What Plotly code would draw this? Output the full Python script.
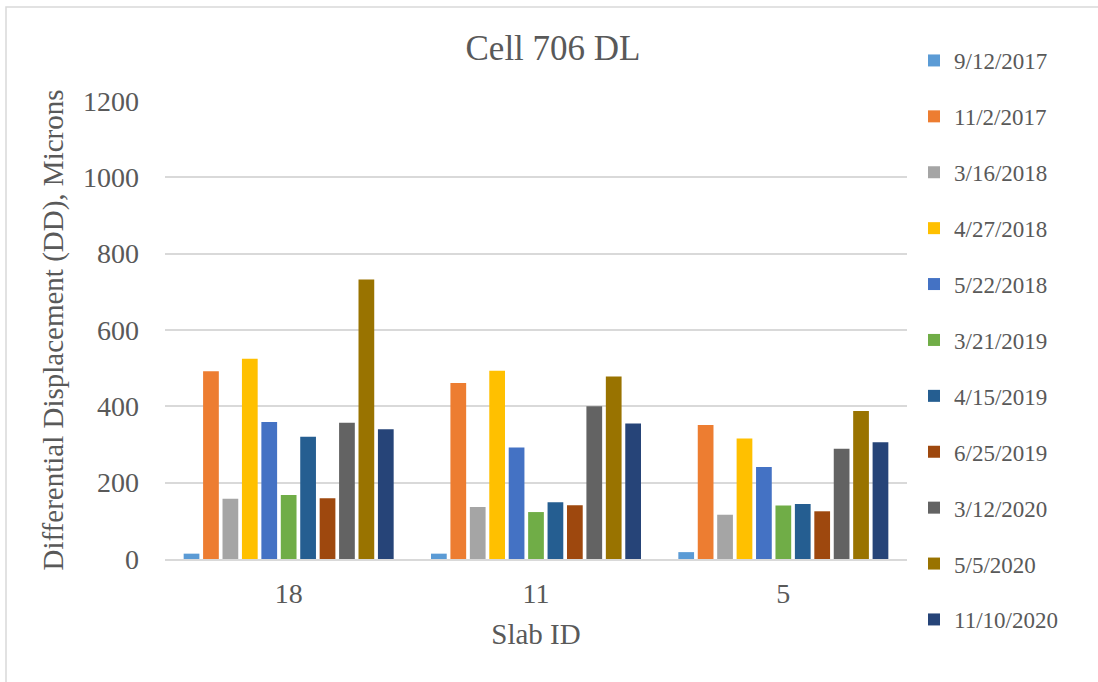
import plotly.graph_objects as go

slabs = ["18", "11", "5"]
dates = ["9/12/2017", "11/2/2017", "3/16/2018", "4/27/2018", "5/22/2018",
         "3/21/2019", "4/15/2019", "6/25/2019", "3/12/2020", "5/5/2020", "11/10/2020"]
colors = ["#5B9BD5", "#ED7D31", "#A5A5A5", "#FFC000", "#4472C4",
          "#70AD47", "#255E91", "#9E480E", "#636363", "#997300", "#264478"]

d_9_12_2017 = [14, 14, 18]
d_11_2_2017 = [492, 461, 351]
d_3_16_2018 = [158, 136, 116]
d_4_27_2018 = [525, 493, 316]
d_5_22_2018 = [359, 292, 241]
d_3_21_2019 = [168, 123, 140]
d_4_15_2019 = [320, 149, 144]
d_6_25_2019 = [159, 141, 125]
d_3_12_2020 = [357, 400, 289]
d_5_5_2020 = [732, 478, 388]
d_11_10_2020 = [340, 355, 306]

series = [d_9_12_2017, d_11_2_2017, d_3_16_2018, d_4_27_2018, d_5_22_2018,
          d_3_21_2019, d_4_15_2019, d_6_25_2019, d_3_12_2020, d_5_5_2020, d_11_10_2020]

FONT = "Times New Roman, Liberation Serif, serif"
TXT = "#595959"

fig = go.Figure()
for name, vals, col in zip(dates, series, colors):
    fig.add_trace(go.Bar(x=slabs, y=vals, name=name, legendgroup=name,
                         marker=dict(color=col, line=dict(width=0))))

L, R, T, B = 165, 1098 - 907, 101, 682 - 559
W, H = 1098 - L - R, 682 - T - B

fig.update_layout(
    width=1098, height=682,
    margin=dict(l=L, r=R, t=T, b=B, pad=0),
    paper_bgcolor="white", plot_bgcolor="white",
    barmode="group", bargap=0.136, bargroupgap=0.19,
    font=dict(family=FONT, color=TXT),
    title=dict(text="Cell 706 DL", font=dict(size=35, color=TXT, family=FONT),
               x=(553 - L) / W, xref="paper", xanchor="center",
               y=1 - 48 / 682, yref="container", yanchor="middle"),
    legend=dict(x=(914 - L) / W, xanchor="left", y=(559 - 39) / H, yanchor="top",
                font=dict(size=23, color=TXT, family=FONT),
                tracegroupgap=23, bgcolor="rgba(0,0,0,0)", maxheight=800),
    showlegend=True,
)
fig.update_xaxes(
    showline=True, linecolor="#D9D9D9", linewidth=1.5,
    tickfont=dict(size=28, color=TXT, family=FONT),
    ticks="", ticklabelstandoff=9,
    title=dict(text="Slab ID", font=dict(size=29, color=TXT, family=FONT), standoff=15),
)
fig.update_yaxes(
    range=[0, 1200], dtick=200, showgrid=True, gridcolor="#D9D9D9", gridwidth=1.5,
    zeroline=False, showline=False,
    tickfont=dict(size=28, color=TXT, family=FONT),
    ticks="", ticklabelstandoff=25,
    title=dict(text="Differential Displacement (DD), Microns",
               font=dict(size=29, color=TXT, family=FONT), standoff=10),
)
fig.add_shape(type="rect", xref="paper", yref="paper",
              x0=(6 - L) / W, x1=(1200 - L) / W,
              y0=(559 - 800) / H, y1=(559 - 7) / H,
              line=dict(color="#D9D9D9", width=1.5), fillcolor="rgba(0,0,0,0)", layer="below")

fig.write_html("out.html")
